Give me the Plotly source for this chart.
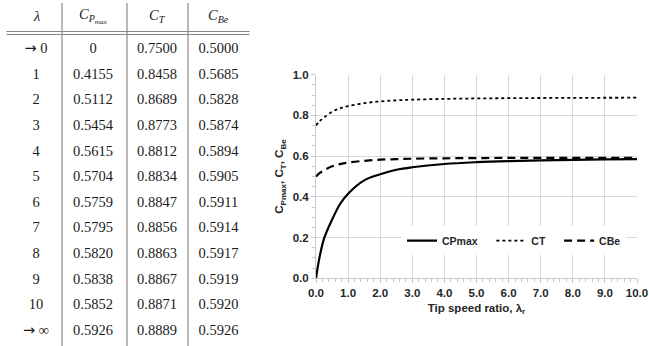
import plotly.graph_objects as go

# ---------------- table data ----------------
lam_labels = ["→ 0", "1", "2", "3", "4", "5", "6", "7", "8", "9", "10", "→ ∞"]
cp_max = [0, 0.4155, 0.5112, 0.5454, 0.5615, 0.5704, 0.5759, 0.5795, 0.5820, 0.5838, 0.5852, 0.5926]
c_t = [0.7500, 0.8458, 0.8689, 0.8773, 0.8812, 0.8834, 0.8847, 0.8856, 0.8863, 0.8867, 0.8871, 0.8889]
c_be = [0.5000, 0.5685, 0.5828, 0.5874, 0.5894, 0.5905, 0.5911, 0.5914, 0.5917, 0.5919, 0.5920, 0.5926]
headers = ["<i>λ</i>", "<i>C</i><sub><i>P<sub>max</sub></i></sub>", "<i>C</i><sub><i>T</i></sub>", "<i>C</i><sub><i>Be</i></sub>"]

# ---------------- chart data ----------------
lam_curve = [0, 0.1, 0.25, 0.5, 0.75, 1, 1.5, 2, 2.5, 3, 4, 5, 6, 7, 8, 9, 10]
cp_curve = [0, 0.095, 0.195, 0.288, 0.365, 0.4155, 0.481, 0.5112, 0.533, 0.5454, 0.5615, 0.5704, 0.5759, 0.5795, 0.5820, 0.5838, 0.5852]
ct_curve = [0.75, 0.77, 0.79, 0.818, 0.835, 0.8458, 0.860, 0.8689, 0.874, 0.8773, 0.8812, 0.8834, 0.8847, 0.8856, 0.8863, 0.8867, 0.8871]
cbe_curve = [0.5, 0.515, 0.53, 0.55, 0.561, 0.5685, 0.577, 0.5828, 0.585, 0.5874, 0.5894, 0.5905, 0.5911, 0.5914, 0.5917, 0.5919, 0.5920]
x_ticks = [0, 1, 2, 3, 4, 5, 6, 7, 8, 9, 10]
y_ticks = [0, 0.2, 0.4, 0.6, 0.8, 1.0]

# ---------------- layout constants ----------------
W, H = 649, 346
ROW0, ROW_H = 49.5, 25.6          # px of first data row, row spacing
COL_X = [36, 93, 157, 218.5]      # px centres of table columns
SEP_X = [62, 127, 188]            # px of vertical separators
HEAD_Y = 16


def row(px):
    return (px - ROW0) / ROW_H


def fmt(v):
    return "0" if v == 0 else f"{v:.4f}"


def lam_fmt(s):
    # draw the arrow glyph in a font with a full-width arrow
    return s.replace("→", "<span style='font-family:DejaVu Sans'>→</span>")


SERIF = "Liberation Serif, Times New Roman, serif"
SANS = "Liberation Sans, Arial, sans-serif"

fig = go.Figure()

# chart traces
fig.add_trace(go.Scatter(x=lam_curve, y=cp_curve, name="CPmax\u00a0\u00a0\u00a0", mode="lines",
                         line=dict(color="black", width=2.2, shape="spline"), xaxis="x", yaxis="y"))
fig.add_trace(go.Scatter(x=lam_curve, y=ct_curve, name="CT\u00a0\u00a0\u00a0", mode="lines",
                         line=dict(color="black", width=1.8, dash="dot", shape="spline"), xaxis="x", yaxis="y"))
fig.add_trace(go.Scatter(x=lam_curve, y=cbe_curve, name="CBe", mode="lines",
                         line=dict(color="black", width=2.2, dash="8px,5px", shape="spline"), xaxis="x", yaxis="y"))

# table text traces
rows = list(range(len(lam_labels)))
cols = [[lam_fmt(s) for s in lam_labels], [fmt(v) for v in cp_max], [fmt(v) for v in c_t], [fmt(v) for v in c_be]]
for cx, txt in zip(COL_X, cols):
    fig.add_trace(go.Scatter(x=[cx] * len(rows), y=rows, text=txt, mode="text",
                             textposition="middle center",
                             textfont=dict(family=SERIF, size=14.5, color="#1a1a1a"),
                             showlegend=False, hoverinfo="skip", xaxis="x2", yaxis="y2"))

annotations = []
for cx, h in zip(COL_X, headers):
    annotations.append(dict(x=cx, y=row(HEAD_Y), xref="x2", yref="y2", text=h, showarrow=False,
                            font=dict(family=SERIF, size=14.5, color="#1a1a1a"),
                            xanchor="center", yanchor="middle"))

shapes = []
for sx in SEP_X:
    shapes.append(dict(type="line", xref="x2", yref="y2", x0=sx, x1=sx, y0=row(3), y1=row(H),
                       line=dict(color="#9a9a9a", width=1.4)))
for ly in (31.5, 34.5):
    shapes.append(dict(type="line", xref="x2", yref="y2", x0=6.5, x1=249.5, y0=row(ly), y1=row(ly),
                       line=dict(color="#8a8a8a", width=1)))

tickfont = dict(family=SANS, size=11.5, color="#262626", weight="bold")
fig.update_layout(
    template="none",
    width=W, height=H,
    margin=dict(l=0, r=0, t=0, b=0, pad=0, autoexpand=False),
    paper_bgcolor="white", plot_bgcolor="white",
    showlegend=True,
    legend=dict(orientation="h", x=514 / W, y=1 - 240.7 / H, xanchor="center", yanchor="middle",
                bgcolor="white", borderwidth=0,
                font=dict(family=SANS, size=10.5, color="#262626", weight="bold")),
    xaxis=dict(domain=[316 / W, 637 / W], range=[0, 10], tickvals=x_ticks,
               ticktext=[f"{v:.1f}" for v in x_ticks], tickfont=tickfont,
               showgrid=True, gridcolor="#d9d9d9", gridwidth=1, automargin=False,
               showline=True, linecolor="#c8c8c8", linewidth=1, zeroline=False,
               ticks="outside", ticklen=4, tickcolor="#c8c8c8",
               minor=dict(dtick=0.2, ticks="outside", ticklen=3, tickcolor="#c8c8c8", showgrid=False),
               title=dict(text="Tip speed ratio, λ<sub>r</sub>", standoff=5,
                          font=dict(family=SANS, size=11.5, color="#262626", weight="bold")),
               fixedrange=True),
    yaxis=dict(domain=[1 - 278.3 / H, 1 - 74.7 / H], range=[0, 1], tickvals=y_ticks,
               ticktext=[f"{v:.1f}" for v in y_ticks], tickfont=tickfont,
               showgrid=True, gridcolor="#d9d9d9", gridwidth=1, automargin=False,
               showline=True, linecolor="#c8c8c8", linewidth=1, zeroline=False,
               ticks="outside", ticklen=4, tickcolor="#c8c8c8",
               minor=dict(dtick=0.05, ticks="outside", ticklen=3, tickcolor="#c8c8c8", showgrid=False),
               title=dict(text="C<sub>Pmax</sub>, C<sub>T</sub>, C<sub>Be</sub>", standoff=6,
                          font=dict(family=SANS, size=11.5, color="#262626", weight="bold")),
               fixedrange=True),
    xaxis2=dict(domain=[0, 260 / W], range=[0, 260], visible=False, fixedrange=True, automargin=False),
    yaxis2=dict(domain=[0, 1], range=[row(H), row(0)], visible=False, fixedrange=True, automargin=False),
    annotations=annotations,
    shapes=shapes,
)

fig.write_html("out.html", config={"displayModeBar": False},
               post_script="document.body.style.margin='0px';")
